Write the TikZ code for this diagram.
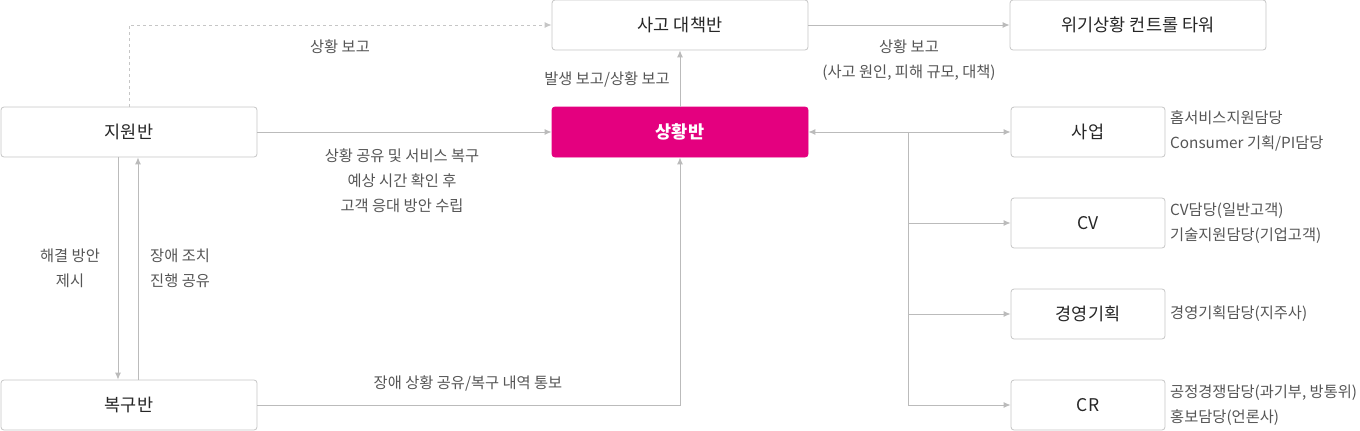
\documentclass[tikz,border=0pt]{standalone}
\usepackage{fontspec}
\setmainfont{Noto Sans CJK KR}
\usetikzlibrary{arrows.meta}

\definecolor{linegray}{HTML}{BBBBBB}
\definecolor{boxgray}{HTML}{C6C6C6}
\definecolor{labelgray}{HTML}{555555}
\definecolor{hotmagenta}{HTML}{E4007F}

\begin{document}
\begin{tikzpicture}[x=1pt, y=-1pt,
    box/.style={draw=boxgray, line width=0.8pt, rounded corners=3pt, fill=white, inner sep=0pt,
        font=\fontsize{17.5}{20}\selectfont, text=black!85},
    widebox/.style={box, minimum width=256pt, minimum height=50pt},
    smallbox/.style={box, minimum width=154pt, minimum height=50pt},
    lbl/.style={font=\fontsize{15.3}{25}\selectfont, text=labelgray, align=center, inner sep=0pt},
    link/.style={draw=linegray, line width=0.9pt, -{Latex[length=7pt,width=6pt]}}]

            \useasboundingbox (0,0) rectangle (1360,431);

            % Draw boxes
            \node[widebox] (daechaek) at (680,25) {사고 대책반};
            \node[widebox] (tower) at (1138,25) {위기상황 컨트롤 타워};
            \node[widebox] (jiwon) at (129,132) {지원반};
            \node[widebox, draw=hotmagenta, fill=hotmagenta, text=white, font=\fontsize{17.5}{20}\selectfont\bfseries] (sanghwang) at (680,132) {상황반};
            \node[widebox] (bokgu) at (129,405) {복구반};

            \node[smallbox] (saeop) at (1088,132) {사업};
            \node[smallbox] (cv) at (1088,223) {CV};
            \node[smallbox] (gyeongyeong) at (1088,314) {경영기획};
            \node[smallbox] (cr) at (1088,405) {CR};

            % Draw connectors
            \draw[link, draw=boxgray, dashed] (jiwon.north) |- (daechaek.west);
            \draw[link] (jiwon.east) -- (sanghwang.west);
            \draw[link] (sanghwang.north) -- (daechaek.south);
            \draw[link] (daechaek.east) -- (tower.west);
            \draw[link] ([xshift=-11pt]jiwon.south) -- ([xshift=-11pt]bokgu.north);
            \draw[link] ([xshift=9pt]bokgu.north) -- ([xshift=9pt]jiwon.south);
            \draw[link] (bokgu.east) -| (sanghwang.south);

            % Draw branches to the right
            \coordinate (split) at (908,132);
            \draw[link, {Latex[length=7pt,width=6pt]}-{Latex[length=7pt,width=6pt]}] (sanghwang.east) -- (saeop.west);
            \draw[link] (split) |- (cv.west);
            \draw[link] (split) |- (gyeongyeong.west);
            \draw[link] (split) |- (cr.west);

            % Draw labels
            \node[lbl] (l-report) at (340,47) {상황 보고};
            \node[lbl] (l-occur) at (607,79) {발생 보고/상황 보고};
            \node[lbl] (l-tower) at (909,60) {상황 보고\\(사고 원인, 피해 규모, 대책)};
            \node[lbl] (l-share) at (402,181) {상황 공유 및 서비스 복구\\예상 시간 확인 후\\고객 응대 방안 수립};
            \node[lbl] (l-solve) at (70,268) {해결 방안\\제시};
            \node[lbl, anchor=west, align=left] (l-fix) at (150,268) {장애 조치\\진행 공유};
            \node[lbl] (l-notify) at (468,383) {장애 상황 공유/복구 내역 통보};

            % Draw team notes
            \node[lbl, anchor=west, align=left] (n-saeop) at (1170,131) {홈서비스지원담당\\Consumer 기획/PI담당};
            \node[lbl, anchor=west, align=left] (n-cv) at (1170,223) {CV담당(일반고객)\\기술지원담당(기업고객)};
            \node[lbl, anchor=west] (n-gyeongyeong) at (1170,314) {경영기획담당(지주사)};
            \node[lbl, anchor=west, align=left] (n-cr) at (1170,405) {공정경쟁담당(과기부, 방통위)\\홍보담당(언론사)};
        \end{tikzpicture}
\end{document}
